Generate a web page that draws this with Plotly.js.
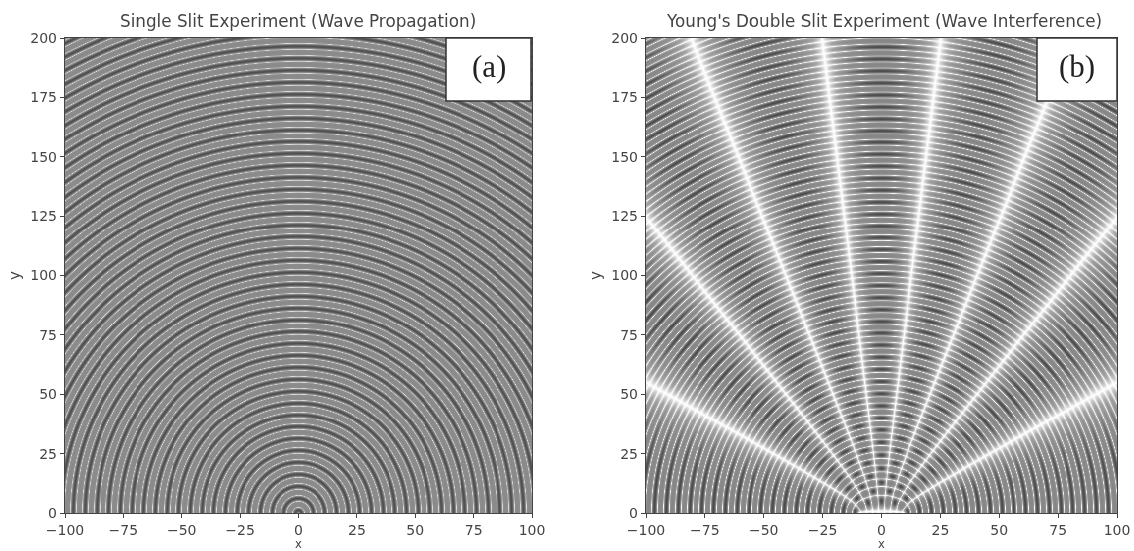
<!DOCTYPE html>
<html><head><meta charset="utf-8">
<script src="https://cdn.plot.ly/plotly-3.0.1.min.js"></script>
<style>html,body{margin:0;padding:0;background:#fff;overflow:hidden}#chart{filter:blur(0.65px)}</style></head>
<body><div id="chart" style="width:1134px;height:551px"></div>
<script>
// Radii of the dark rings (a) along x=0; readings agreed to within about 0.3 of an
// even 5-unit step, so they are typed here with that reading noise removed. Values past 196.3 are estimates.
const ringRadii = [-3.7,1.3,6.3,11.3,16.3,21.3,26.3,31.3,36.3,41.3,46.3,51.3,56.3,61.3,66.3,71.3,76.3,81.3,86.3,91.3,96.3,101.3,106.3,111.3,116.3,121.3,126.3,131.3,136.3,141.3,146.3,151.3,156.3,161.3,166.3,171.3,176.3,181.3,186.3,191.3,196.3,201.3,206.3,211.3,216.3,221.3,226.3,231.3,236.3];
// Slit positions: the bright rays converge on these.
const slitPositions = [-10, 10];
const singleSlit = [0];
const xTicks = [-100,-75,-50,-25,0,25,50,75,100];
const yTicks = [0,25,50,75,100,125,150,175,200];
const panelTitles = ["Single Slit Experiment (Wave Propagation)","Young's Double Slit Experiment (Wave Interference)"];
const panelLabels = ["(a)","(b)"];
const xAxisLabel = "x";

function ringPhase(r){
  let lo=0, hi=ringRadii.length-1;
  while(hi-lo>1){const m=(lo+hi)>>1; if(ringRadii[m]<=r) lo=m; else hi=m;}
  return 2*Math.PI*(r-ringRadii[lo])/(ringRadii[hi]-ringRadii[lo]);
}
const gridX=[], gridY=[];
for(let i=0;i<=480;i++) gridX.push(xTicks[0]+i*(200/480));
for(let j=0;j<=480;j++) gridY.push(yTicks[0]+j*(200/480));
function field(sources){
  return gridY.map(y=>gridX.map(x=>{
    let s=0;
    for(const sx of sources) s+=Math.cos(ringPhase(Math.hypot(x-sx,y)));
    return s;
  }));
}
const csA=[[0,'#8a8a8a'],[0.28,'#8e8e8e'],[0.43,'#a8a8a8'],[0.5,'#e2e2e2'],[0.57,'#a8a8a8'],[0.74,'#8a8a8a'],[0.9,'#666666'],[1,'#505050']];
const csB=[[0,'#868686'],[0.25,'#8e8e8e'],[0.39,'#a4a4a4'],[0.46,'#d0d0d0'],[0.5,'#ffffff'],[0.54,'#d0d0d0'],[0.61,'#a4a4a4'],[0.74,'#8a8a8a'],[0.9,'#626262'],[1,'#4c4c4c']];
const W=1134,H=551;
const P=[{l:65,r:532},{l:646,r:1117}], plotTop=38, plotBot=513;
const boxes=[{l:446,r:531,t:38,b:101},{l:1037,r:1117,t:38,b:101}];
const fx=v=>v/W, fy=v=>1-v/H;
const axisStyle={ticks:'outside',ticklen:4,tickwidth:1,tickcolor:'#444',linecolor:'#444',linewidth:1.2,mirror:true,showgrid:false,zeroline:false,
  tickfont:{family:'DejaVu Sans',size:14,color:'#444'}};
const titleFont={family:'DejaVu Sans',size:16.8,color:'#444'};
const data=[
 {type:'heatmap',x:gridX,y:gridY,z:field(singleSlit),colorscale:csA,zmin:-1,zmax:1,showscale:false,xaxis:'x',yaxis:'y',hoverinfo:'skip'},
 {type:'heatmap',x:gridX,y:gridY,z:field(slitPositions),colorscale:csB,zmin:-2,zmax:2,showscale:false,xaxis:'x2',yaxis:'y2',hoverinfo:'skip'}
];
const mkX=(i,anchor)=>Object.assign({},axisStyle,{domain:[fx(P[i].l),fx(P[i].r)],range:[-100,100],tickvals:xTicks,ticktext:xTicks.map(v=>String(v).replace('-','\u2212')),anchor});
const mkY=(i,anchor)=>Object.assign({},axisStyle,{domain:[fy(plotBot),fy(plotTop)],range:[0,200],tickvals:yTicks,anchor,
  title:{text:'y',font:{family:'DejaVu Sans',size:15,color:'#444'},standoff:6}});
const layout={width:W,height:H,margin:{l:0,r:0,t:0,b:0},paper_bgcolor:'#fff',plot_bgcolor:'#fff',showlegend:false,
 xaxis:mkX(0,'y'),yaxis:mkY(0,'x'),xaxis2:mkX(1,'y2'),yaxis2:mkY(1,'x2'),
 shapes:boxes.map(b=>({type:'rect',xref:'paper',yref:'paper',x0:fx(b.l),x1:fx(b.r),y0:fy(b.b),y1:fy(b.t),fillcolor:'#fff',line:{color:'#333',width:1.5},layer:'above'})),
 annotations:[
  ...panelTitles.map((t,i)=>({text:t,xref:'paper',yref:'paper',x:fx([298,884][i]),y:fy(21),xanchor:'center',yanchor:'middle',showarrow:false,font:titleFont})),
  ...panelLabels.map((t,i)=>({text:t,xref:'paper',yref:'paper',x:fx((boxes[i].l+boxes[i].r)/2),y:fy(67),xanchor:'center',yanchor:'middle',showarrow:false,font:{family:'Liberation Serif',size:31,color:'#222'}})),
  ...P.map(p=>({text:xAxisLabel,xref:'paper',yref:'paper',x:fx((p.l+p.r)/2),y:fy(544),xanchor:'center',yanchor:'middle',showarrow:false,font:{family:'DejaVu Sans',size:11.5,color:'#444'}}))
 ]};
Plotly.newPlot('chart',data,layout,{displayModeBar:false,staticPlot:true});
</script></body></html>
